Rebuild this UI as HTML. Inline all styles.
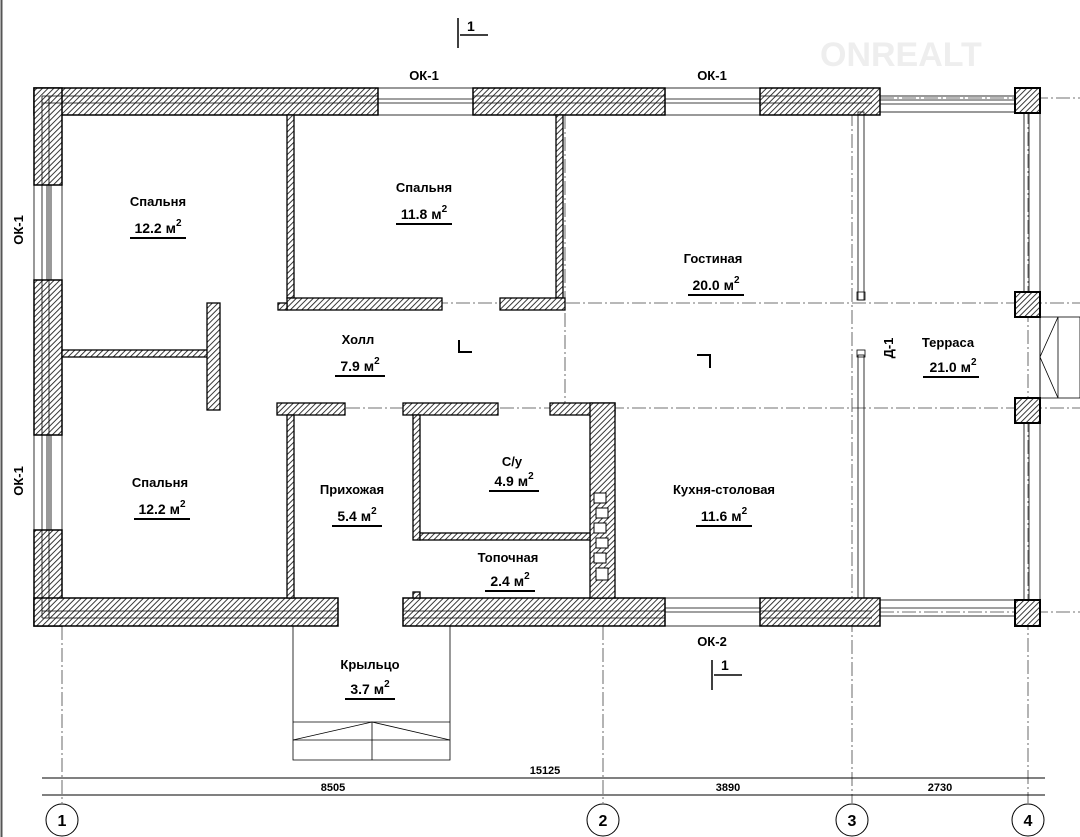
<!DOCTYPE html>
<html><head><meta charset="utf-8"><style>
html,body{margin:0;padding:0;background:#fff;}
svg{display:block;font-family:"Liberation Sans",sans-serif;}
</style></head><body>
<svg width="1080" height="837" viewBox="0 0 1080 837" xmlns="http://www.w3.org/2000/svg">
<defs>
<pattern id="h" patternUnits="userSpaceOnUse" width="4" height="4" patternTransform="rotate(45)">
<rect width="4" height="4" fill="#fff"/><line x1="0" y1="0" x2="0" y2="4" stroke="#222" stroke-width="1.8"/>
</pattern>
</defs>
<rect width="1080" height="837" fill="#fff"/>
<line x1="1.5" y1="0" x2="1.5" y2="837" stroke="#555" stroke-width="2"/>
<text x="820" y="66" font-size="34" font-weight="bold" fill="#eee">ONREALT</text>

<g stroke="#444" stroke-width="0.8" stroke-dasharray="14 3 2 3" fill="none">
<line x1="62" y1="626" x2="62" y2="803"/>
<line x1="603" y1="626" x2="603" y2="803"/>
<line x1="852" y1="112" x2="852" y2="803"/>
<line x1="1028" y1="88" x2="1028" y2="803"/>
<line x1="280" y1="303" x2="1080" y2="303"/>
<line x1="280" y1="408" x2="1080" y2="408"/>
<line x1="880" y1="98" x2="1080" y2="98"/>
<line x1="880" y1="612" x2="1080" y2="612"/>
<line x1="565" y1="115" x2="565" y2="408"/>
</g>

<g fill="url(#h)" stroke="#000" stroke-width="1.5">
<rect x="34" y="88" width="344" height="27"/>
<rect x="473" y="88" width="192" height="27"/>
<rect x="760" y="88" width="120" height="27"/>
<rect x="34" y="88" width="28" height="97"/>
<rect x="34" y="280" width="28" height="155"/>
<rect x="34" y="530" width="28" height="96"/>
<rect x="34" y="598" width="304" height="28"/>
<rect x="403" y="598" width="262" height="28"/>
<rect x="760" y="598" width="120" height="28"/>
</g>
<g stroke="#000" stroke-width="0.8" fill="none">
<line x1="42" y1="96" x2="378" y2="96"/><line x1="42" y1="103" x2="378" y2="103"/>
<line x1="473" y1="96" x2="665" y2="96"/><line x1="473" y1="103" x2="665" y2="103"/>
<line x1="760" y1="96" x2="872" y2="96"/><line x1="760" y1="103" x2="872" y2="103"/>
<line x1="42" y1="96" x2="42" y2="618"/><line x1="49" y1="96" x2="49" y2="618"/>
<line x1="42" y1="618" x2="338" y2="618"/><line x1="42" y1="611" x2="338" y2="611"/>
<line x1="403" y1="618" x2="665" y2="618"/><line x1="403" y1="611" x2="665" y2="611"/>
<line x1="760" y1="618" x2="872" y2="618"/><line x1="760" y1="611" x2="872" y2="611"/>
<rect x="378" y="88" width="95" height="27"/><line x1="378" y1="99" x2="473" y2="99"/><line x1="378" y1="103" x2="473" y2="103"/>
<rect x="665" y="88" width="95" height="27"/><line x1="665" y1="99" x2="760" y2="99"/><line x1="665" y1="103" x2="760" y2="103"/>
<rect x="665" y="598" width="95" height="28"/><line x1="665" y1="608" x2="760" y2="608"/><line x1="665" y1="612" x2="760" y2="612"/>
<rect x="34" y="185" width="28" height="95"/><line x1="47" y1="185" x2="47" y2="280"/><line x1="51" y1="185" x2="51" y2="280"/>
<rect x="34" y="435" width="28" height="95"/><line x1="47" y1="435" x2="47" y2="530"/><line x1="51" y1="435" x2="51" y2="530"/>
<rect x="880" y="96" width="135" height="16"/><line x1="880" y1="100" x2="1015" y2="100"/><line x1="880" y1="104" x2="1015" y2="104"/>
<rect x="880" y="600" width="135" height="16"/><line x1="880" y1="608" x2="1015" y2="608"/>
<rect x="1024" y="113" width="5" height="179"/><rect x="1024" y="423" width="5" height="177"/>
<line x1="1040" y1="113" x2="1040" y2="600"/>
<rect x="858" y="112" width="6" height="188"/><rect x="857" y="292" width="8" height="8"/>
<rect x="858" y="355" width="6" height="243"/><rect x="857" y="350" width="8" height="7"/>
<rect x="1040" y="317" width="40" height="81"/>
<line x1="1058" y1="317" x2="1058" y2="398"/>
<polyline points="1058,317 1040,357 1058,398"/>
<polyline points="293,626 293,760 450,760 450,626"/>
<line x1="293" y1="722" x2="450" y2="722"/><line x1="293" y1="740" x2="450" y2="740"/>
<line x1="372" y1="722" x2="372" y2="760"/>
<polyline points="293,740 372,722 450,740"/>
</g>
<g fill="url(#h)" stroke="#000" stroke-width="2">
<rect x="1015" y="88" width="25" height="25"/>
<rect x="1015" y="292" width="25" height="25"/>
<rect x="1015" y="398" width="25" height="25"/>
<rect x="1015" y="600" width="25" height="26"/>
</g>

<g fill="url(#h)" stroke="#000" stroke-width="1.3">
<rect x="287" y="115" width="7" height="183"/>
<rect x="556" y="115" width="7" height="183"/>
<rect x="287" y="298" width="155" height="12"/>
<rect x="278" y="303" width="9" height="7"/>
<rect x="500" y="298" width="65" height="12"/>
<rect x="277" y="403" width="68" height="12"/>
<rect x="403" y="403" width="95" height="12"/>
<rect x="550" y="403" width="65" height="12"/>
<rect x="590" y="403" width="25" height="195"/>
<rect x="287" y="415" width="7" height="183"/>
<rect x="62" y="350" width="148" height="7"/>
<rect x="207" y="303" width="13" height="107"/>
<rect x="413" y="415" width="7" height="125"/>
<rect x="420" y="533" width="170" height="7"/>
<rect x="413" y="592" width="7" height="6"/>
</g>
<g fill="#fff" stroke="#000" stroke-width="1">
<rect x="594" y="493" width="12" height="10"/><rect x="596" y="508" width="12" height="10"/>
<rect x="594" y="523" width="12" height="10"/><rect x="596" y="538" width="12" height="10"/>
<rect x="594" y="553" width="12" height="10"/><rect x="596" y="568" width="12" height="12"/>
</g>
<g stroke="#000" stroke-width="2" fill="none">
<polyline points="459,340 459,352 472,352"/>
<polyline points="697,355 710,355 710,368"/>
</g>

<g stroke="#000" stroke-width="1.5" fill="none">
<line x1="458" y1="18" x2="458" y2="48"/><line x1="460" y1="35" x2="488" y2="35"/>
<line x1="712" y1="660" x2="712" y2="690"/><line x1="714" y1="675" x2="742" y2="675"/>
</g>
<text x="467" y="31" font-size="14" font-weight="bold">1</text>
<text x="721" y="670" font-size="14" font-weight="bold">1</text>

<g stroke="#000" stroke-width="1" fill="none">
<line x1="42" y1="778" x2="1045" y2="778"/>
<line x1="42" y1="795" x2="1045" y2="795"/>
<circle cx="62" cy="820" r="16"/><circle cx="603" cy="820" r="16"/>
<circle cx="852" cy="820" r="16"/><circle cx="1028" cy="820" r="16"/>
</g>
<g font-size="11" text-anchor="middle" font-weight="bold">
<text x="545" y="774">15125</text><text x="333" y="791">8505</text>
<text x="728" y="791">3890</text><text x="940" y="791">2730</text>
</g>
<g font-size="16" text-anchor="middle" font-weight="bold">
<text x="62" y="826">1</text><text x="603" y="826">2</text><text x="852" y="826">3</text><text x="1028" y="826">4</text>
</g>

<g font-size="13" font-weight="bold" text-anchor="middle">
<text x="424" y="80">ОК-1</text><text x="712" y="80">ОК-1</text><text x="712" y="646">ОК-2</text>
<text transform="translate(23,230) rotate(-90)">ОК-1</text>
<text transform="translate(23,481) rotate(-90)">ОК-1</text>
<text transform="translate(893,348) rotate(-90)">Д-1</text>
<text x="158" y="206">Спальня</text>
<text x="424" y="192">Спальня</text>
<text x="713" y="263">Гостиная</text>
<text x="358" y="344">Холл</text>
<text x="948" y="347">Терраса</text>
<text x="160" y="487">Спальня</text>
<text x="352" y="494">Прихожая</text>
<text x="512" y="466">С/у</text>
<text x="724" y="494">Кухня-столовая</text>
<text x="508" y="562">Топочная</text>
<text x="370" y="669">Крыльцо</text>
</g>
<g font-size="14" text-anchor="middle" font-weight="bold">
<text x="158" y="233">12.2 м<tspan font-size="10" dy="-7">2</tspan></text>
<text x="424" y="219">11.8 м<tspan font-size="10" dy="-7">2</tspan></text>
<text x="716" y="290">20.0 м<tspan font-size="10" dy="-7">2</tspan></text>
<text x="360" y="371">7.9 м<tspan font-size="10" dy="-7">2</tspan></text>
<text x="953" y="372">21.0 м<tspan font-size="10" dy="-7">2</tspan></text>
<text x="162" y="514">12.2 м<tspan font-size="10" dy="-7">2</tspan></text>
<text x="357" y="521">5.4 м<tspan font-size="10" dy="-7">2</tspan></text>
<text x="514" y="486">4.9 м<tspan font-size="10" dy="-7">2</tspan></text>
<text x="724" y="521">11.6 м<tspan font-size="10" dy="-7">2</tspan></text>
<text x="510" y="586">2.4 м<tspan font-size="10" dy="-7">2</tspan></text>
<text x="370" y="694">3.7 м<tspan font-size="10" dy="-7">2</tspan></text>
</g>
<g stroke="#000" stroke-width="2">
<line x1="130" y1="238" x2="186" y2="238"/><line x1="396" y1="224" x2="452" y2="224"/>
<line x1="688" y1="295" x2="744" y2="295"/><line x1="335" y1="376" x2="385" y2="376"/>
<line x1="923" y1="377" x2="979" y2="377"/><line x1="134" y1="519" x2="190" y2="519"/>
<line x1="332" y1="526" x2="382" y2="526"/><line x1="489" y1="491" x2="539" y2="491"/>
<line x1="696" y1="526" x2="752" y2="526"/><line x1="485" y1="591" x2="535" y2="591"/>
<line x1="345" y1="699" x2="395" y2="699"/>
</g>
</svg>
</body></html>
